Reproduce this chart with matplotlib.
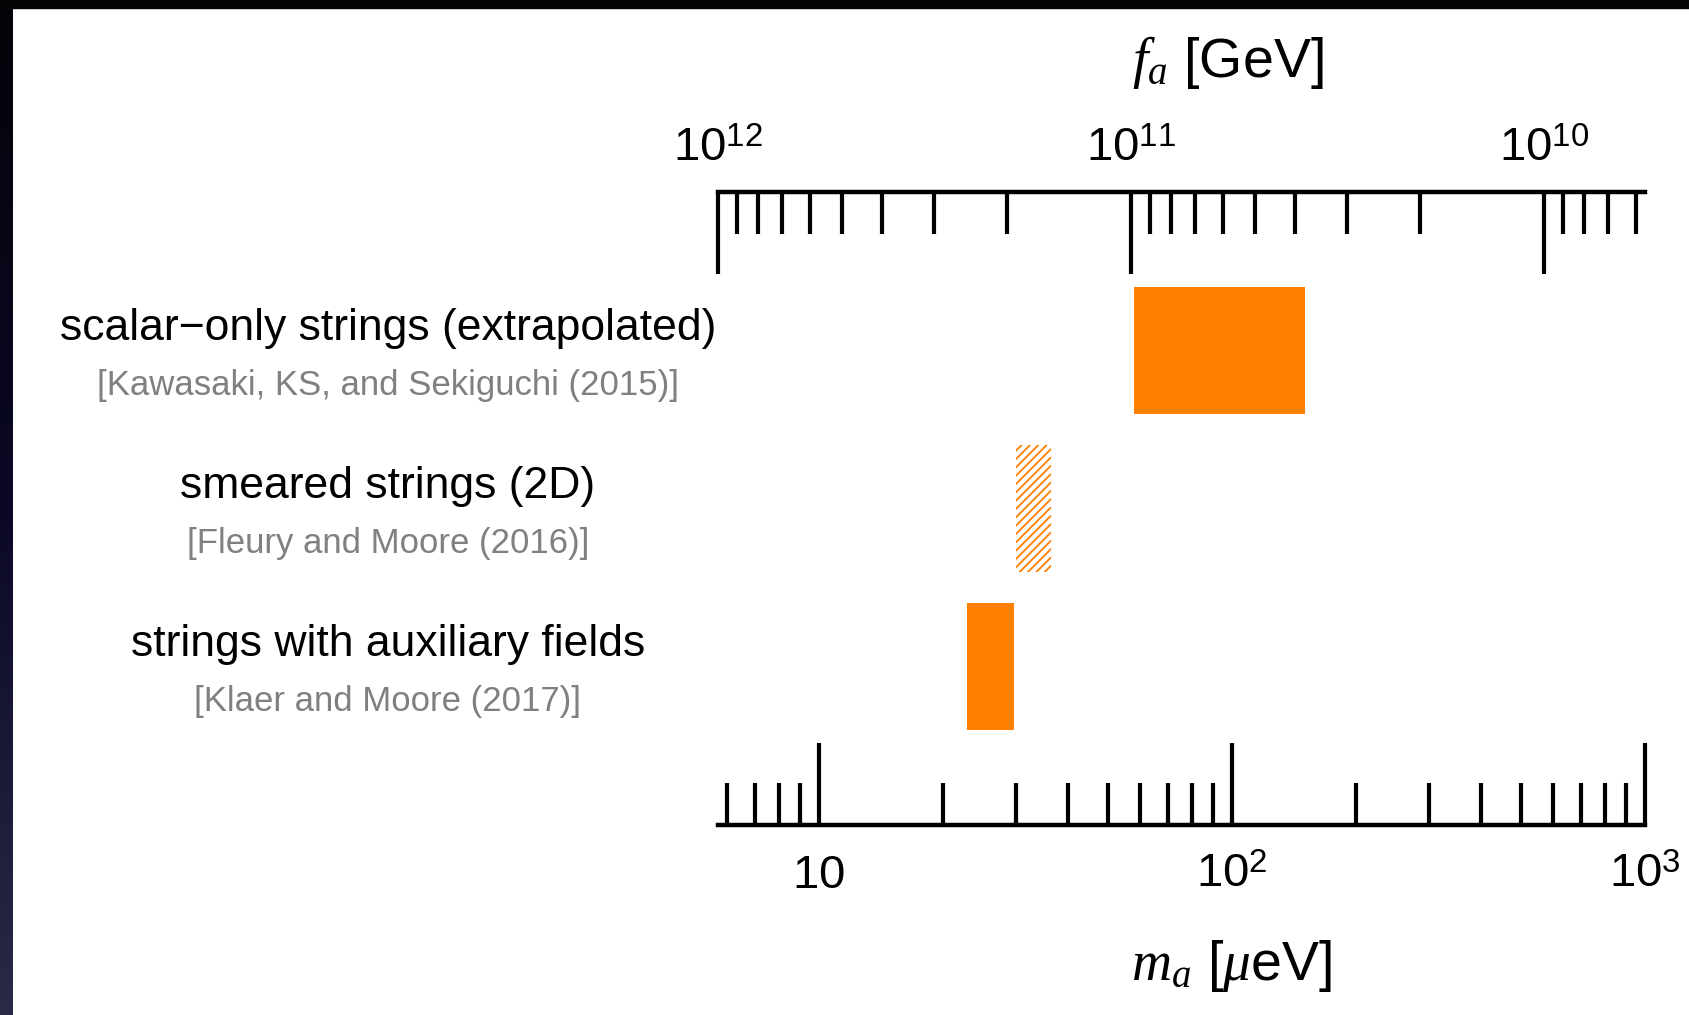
import numpy as np
import matplotlib
matplotlib.use("Agg")
import matplotlib.pyplot as plt
import matplotlib.transforms as mtransforms
from matplotlib.colors import LinearSegmentedColormap
from matplotlib.patches import Rectangle
from matplotlib.ticker import FixedLocator, NullFormatter, LogLocator

# ---------------- data ----------------
labels = ["scalar\u2212only strings (extrapolated)",
          "smeared strings (2D)",
          "strings with auxiliary fields"]
citations = ["[Kawasaki, KS, and Sekiguchi (2015)]",
             "[Fleury and Moore (2016)]",
             "[Klaer and Moore (2017)]"]
ma_low = [58.0, 30.0, 22.8]     # micro-eV
ma_high = [150.0, 36.4, 29.6]   # micro-eV
hatched = [False, True, False]

ma_range = [5.7, 1000.0]
ma_ticks = [10, 100, 1000]
ma_ticklabels = ["$10$", "$10^2$", "$10^3$"]
fa_ticks = [1e12, 1e11, 1e10]
fa_ticklabels = ["$10^{12}$", "$10^{11}$", "$10^{10}$"]
ma_fa_const = 5.7e12  # m_a [ueV] * f_a [GeV]

# ---------------- style ----------------
plt.rcParams['font.family'] = ['Liberation Sans', 'DejaVu Sans']
plt.rcParams['mathtext.fontset'] = 'custom'
plt.rcParams['mathtext.rm'] = 'Liberation Sans'
plt.rcParams['mathtext.it'] = 'Liberation Serif:italic'
plt.rcParams['mathtext.bf'] = 'Liberation Sans:bold'
plt.rcParams['hatch.linewidth'] = 1.3
plt.rcParams['hatch.color'] = '#FF8000'

W, H = 1689, 1015
fig = plt.figure(figsize=(W / 100, H / 100), dpi=100)
fig.patch.set_facecolor('white')

ax_l, ax_r, ax_t, ax_b = 718, 1645, 192, 825
ax = fig.add_axes([ax_l / W, 1 - ax_b / H, (ax_r - ax_l) / W, (ax_b - ax_t) / H])
ax.set_facecolor('none')
ax.set_xscale('log')
ax.set_xlim(*ma_range)
ax.set_ylim(3.0, -1.0)

orange = '#FF8000'
for i in range(len(labels)):
    if hatched[i]:
        ax.barh(i, ma_high[i] - ma_low[i], left=ma_low[i], height=0.8,
                color='none', edgecolor=orange, hatch='////', linewidth=0)
    else:
        ax.barh(i, ma_high[i] - ma_low[i], left=ma_low[i], height=0.8,
                color=orange, linewidth=0)

for s in ['left', 'right', 'top']:
    ax.spines[s].set_visible(False)
ax.spines['bottom'].set_linewidth(3.2)
ax.yaxis.set_visible(False)

ax.xaxis.set_major_locator(FixedLocator(ma_ticks))
ax.set_xticklabels(ma_ticklabels)
ax.xaxis.set_minor_locator(LogLocator(base=10, subs=np.arange(2, 10)))
ax.xaxis.set_minor_formatter(NullFormatter())
ax.tick_params(axis='x', which='major', direction='in', length=59, width=3.0,
               labelsize=34, pad=45)
ax.tick_params(axis='x', which='minor', direction='in', length=30, width=3.0)
for t in ax.xaxis.get_major_ticks():
    t.label1.set_va('baseline')

# top axis: f_a
ax2 = ax.twiny()
ax2.set_xscale('log')
ax2.set_xlim(ma_fa_const / ma_range[0], ma_fa_const / ma_range[1])
for s in ['left', 'right', 'bottom']:
    ax2.spines[s].set_visible(False)
ax2.spines['top'].set_linewidth(3.2)
ax2.xaxis.set_major_locator(FixedLocator(fa_ticks))
ax2.set_xticklabels(fa_ticklabels)
ax2.xaxis.set_minor_locator(LogLocator(base=10, subs=np.arange(2, 10)))
ax2.xaxis.set_minor_formatter(NullFormatter())
ax2.tick_params(axis='x', which='major', direction='in', length=59, width=3.0,
                labelsize=34, pad=22)
ax2.tick_params(axis='x', which='minor', direction='in', length=30, width=3.0)
for t in ax2.xaxis.get_major_ticks():
    t.label2.set_va('baseline')

# axis titles
fig.text(1228 / W, 1 - 77 / H, "$f_a$ [GeV]", fontsize=40, ha='center', va='baseline')
fig.text(1231 / W, 1 - 980 / H, "$m_a$ [$\\mu$eV]", fontsize=40, ha='center', va='baseline')

# row labels
trans = mtransforms.blended_transform_factory(fig.transFigure, ax.transData)
for i in range(len(labels)):
    ax.text(388 / W, i - 0.14, labels[i], transform=trans, ha='center', va='center',
            fontsize=32, color='black', clip_on=False)
    ax.text(388 / W, i + 0.22, citations[i], transform=trans, ha='center', va='center',
            fontsize=25, color='#808080', clip_on=False)

# slide frame (dark strips)
cmap = LinearSegmentedColormap.from_list('edge', ['#040307', '#0a0826', '#2a2a48'])
axg = fig.add_axes([0, 0, 13 / W, 1])
axg.imshow(np.linspace(0, 1, 256).reshape(-1, 1), aspect='auto', cmap=cmap,
           extent=[0, 1, 0, 1], origin='upper')
axg.set_axis_off()
fig.patches.append(Rectangle((0, 1 - 8 / H), 1, 8 / H, transform=fig.transFigure,
                             color='#050508', zorder=10))

fig.savefig('out.png', dpi=100)
